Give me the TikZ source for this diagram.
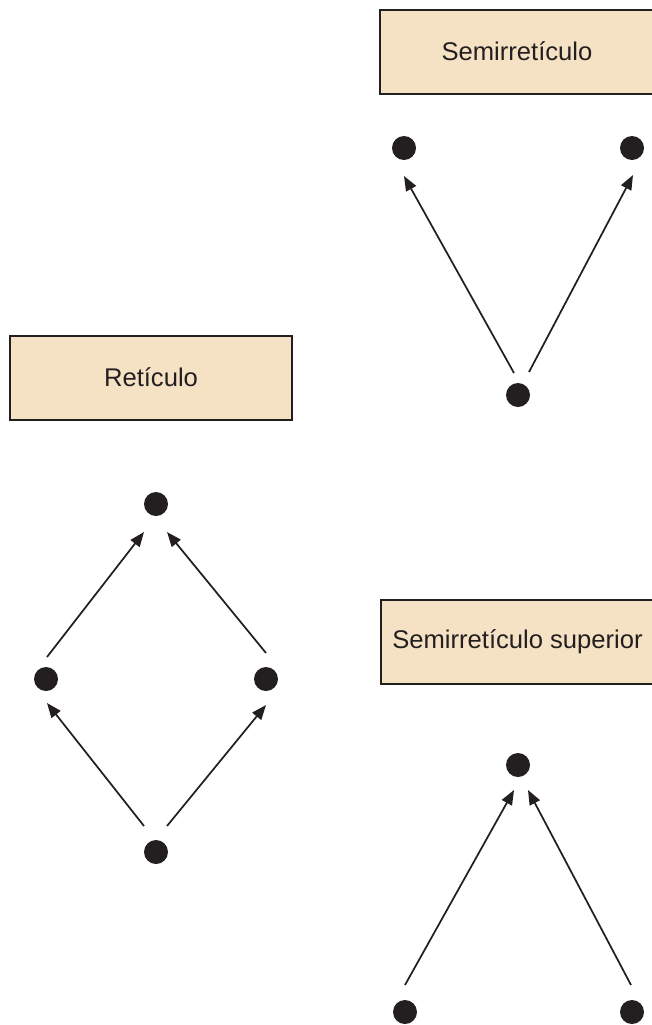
\documentclass[tikz,border=0pt]{standalone}
\usepackage{fontspec}
\setmainfont{Liberation Sans}
\usetikzlibrary{arrows.meta}
\definecolor{boxfill}{RGB}{245,225,195}
\definecolor{inkblack}{RGB}{35,31,32}

\begin{document}
\begin{tikzpicture}[x=0.75pt,y=-0.75pt,
    dot/.style={circle,fill=inkblack,inner sep=0pt,minimum size=18pt},
    titlebox/.style={draw=inkblack,fill=boxfill,line width=1.5pt,minimum width=205pt,
      minimum height=63pt,inner sep=0pt,text=inkblack,font=\fontsize{19.2}{23}\selectfont},
    arr/.style={draw=inkblack,line width=1.3pt,-{Triangle[length=11pt,width=8.5pt]}}]
    \useasboundingbox (0,0) rectangle (652,1025);
    % lattice
    \node[titlebox,minimum width=211pt] (ret) at (151,377.5) {Retículo};
    \node[dot] (rtop) at (156,504) {};
    \node[dot] (rleft) at (46,679) {};
    \node[dot] (rright) at (266,679) {};
    \node[dot] (rbot) at (156,852) {};
    \draw[arr] ([shift={(1,-22)}]rleft.center) -- ([shift={(-12,28)}]rtop.center);
    \draw[arr] ([shift={(0,-26)}]rright.center) -- ([shift={(11,28)}]rtop.center);
    \draw[arr] ([shift={(-12,-26)}]rbot.center) -- ([shift={(1,24)}]rleft.center);
    \draw[arr] ([shift={(11,-26)}]rbot.center) -- ([shift={(0,26)}]rright.center);
    % semilattice
    \node[titlebox] (semi) at (517,51.5) {Semirretículo};
    \node[dot] (sleft) at (404,148) {};
    \node[dot] (sright) at (632,148) {};
    \node[dot] (sbot) at (518,395) {};
    \draw[arr] ([shift={(-4,-22)}]sbot.center) -- ([shift={(0,28)}]sleft.center);
    \draw[arr] ([shift={(11,-23)}]sbot.center) -- ([shift={(1,27)}]sright.center);
    % upper semilattice
    \node[titlebox] (usemi) at (517.5,642) {Semirretículo superior};
    \node[dot] (utop) at (518,765) {};
    \node[dot] (uleft) at (405,1012) {};
    \node[dot] (uright) at (632,1012) {};
    \draw[arr] ([shift={(0,-27)}]uleft.center) -- ([shift={(-4,25)}]utop.center);
    \draw[arr] ([shift={(-1,-27)}]uright.center) -- ([shift={(10,25)}]utop.center);
\end{tikzpicture}
\end{document}
